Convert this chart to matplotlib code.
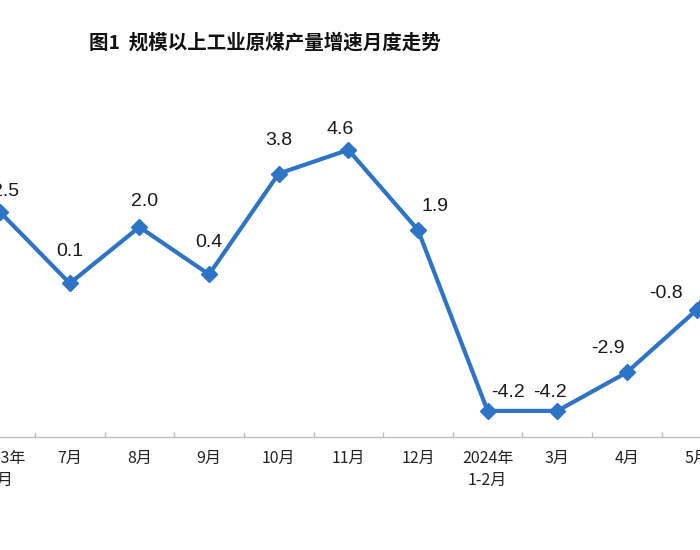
import matplotlib
matplotlib.use("Agg")
import matplotlib.pyplot as plt
from matplotlib.ticker import FixedLocator

plt.rcParams['font.family'] = ['Noto Sans CJK SC', 'DejaVu Sans']

# months shown (last one runs off the right edge of the picture)
months = ['2023年\n6月', '7月', '8月', '9月', '10月', '11月', '12月',
          '2024年\n1-2月', '3月', '4月', '5月', '6月']
growth = [2.5, 0.1, 2.0, 0.4, 3.8, 4.6, 1.9, -4.2, -4.2, -2.9, -0.8, 3.6]
# labels for the points that are inside the picture
value_labels = ['2.5', '0.1', '2.0', '0.4', '3.8', '4.6', '1.9',
                '-4.2', '-4.2', '-2.9', '-0.8']

# label offsets in points from each point (dx, dy)
label_offsets = [(4, 15), (0, 23), (4, 18), (0, 23), (0, 24), (-6, 15), (12, 17),
                 (15, 13), (-5, 13), (-14, 17), (-22, 12)]

line_color = '#2E74C6'

fig = plt.figure(figsize=(7, 5.5), dpi=100)
ax = fig.add_axes([0, 113 / 550, 1, 377 / 550])

x = list(range(len(months)))
ax.plot(x, growth, color=line_color, linewidth=3, marker='D', markersize=8,
        markerfacecolor=line_color, markeredgecolor=line_color, zorder=3)

for xi, yi, txt, (dx, dy) in zip(x, growth, value_labels, label_offsets):
    ax.annotate(txt, (xi, yi), xytext=(dx, dy), textcoords='offset points',
                ha='center', va='center', fontsize=14, annotation_clip=False,
                family=['Liberation Sans', 'DejaVu Sans'], color='#1a1a1a')

for side in ['top', 'right', 'left']:
    ax.spines[side].set_visible(False)
ax.spines['bottom'].set_color('#BFBFBF')
ax.spines['bottom'].set_linewidth(1)

ax.set_yticks([])
ax.set_xticks(x)
ax.set_xticklabels(months, fontsize=11.5, color='#222222', linespacing=1.4)
ax.tick_params(axis='x', which='major', length=0, pad=9)
ax.xaxis.set_minor_locator(FixedLocator([i + 0.5 for i in range(len(months))]))
ax.tick_params(axis='x', which='minor', direction='in', length=3.5,
               color='#BFBFBF', width=1)

ax.set_xlim(-0.002, 10.05)
ax.set_ylim(-5.08, 7.63)

fig.text(265 / 700, 1 - 43 / 550, '图1  规模以上工业原煤产量增速月度走势',
         ha='center', va='center', fontsize=14, fontweight='bold', color='#111111')

fig.savefig('out.png', dpi=100)
